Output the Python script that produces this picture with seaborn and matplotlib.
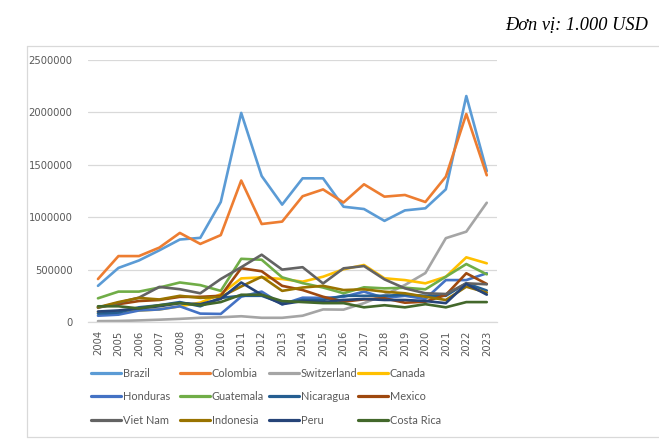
import matplotlib
matplotlib.use("Agg")
import matplotlib.pyplot as plt
import seaborn as sns
import pandas as pd
from matplotlib.lines import Line2D

years = list(range(2004, 2024))

brazil      = [345000, 516000, 587000, 684000, 787000, 803000, 1145000, 1995000, 1393000, 1120000, 1371000, 1371000, 1100000, 1078000, 965000, 1065000, 1085000, 1266000, 2156000, 1440000]
colombia    = [410000, 629000, 629000, 710000, 850000, 745000, 829000, 1350000, 935000, 958000, 1200000, 1265000, 1140000, 1314000, 1196000, 1212000, 1145000, 1387000, 1985000, 1400000]
switzerland = [8000, 10000, 15000, 22000, 30000, 40000, 45000, 55000, 40000, 40000, 60000, 120000, 118000, 180000, 258000, 353000, 467000, 800000, 862000, 1138000]
canada      = [94000, 103000, 110000, 120000, 150000, 185000, 265000, 416000, 426000, 410000, 385000, 432000, 503000, 544000, 417000, 400000, 369000, 432000, 617000, 560000]
honduras    = [60000, 70000, 110000, 120000, 150000, 80000, 77000, 242000, 290000, 168000, 232000, 230000, 240000, 290000, 230000, 250000, 220000, 400000, 400000, 465000]
guatemala   = [226000, 290000, 290000, 329000, 377000, 352000, 297000, 603000, 594000, 426000, 371000, 329000, 274000, 331000, 321000, 327000, 312000, 432000, 553000, 455000]
nicaragua   = [80000, 90000, 140000, 160000, 190000, 150000, 230000, 250000, 250000, 180000, 210000, 210000, 250000, 250000, 250000, 260000, 250000, 250000, 370000, 300000]
mexico      = [142000, 170000, 200000, 210000, 240000, 240000, 250000, 513000, 484000, 345000, 305000, 241000, 194000, 216000, 226000, 184000, 194000, 258000, 465000, 363000]
vietnam     = [135000, 184000, 232000, 335000, 313000, 274000, 410000, 523000, 642000, 500000, 523000, 368000, 512000, 534000, 407000, 321000, 274000, 267000, 369000, 360000]
indonesia   = [140000, 190000, 230000, 215000, 250000, 230000, 240000, 339000, 432000, 297000, 329000, 345000, 305000, 312000, 289000, 274000, 241000, 210000, 337000, 280000]
peru        = [100000, 110000, 130000, 150000, 180000, 170000, 220000, 377000, 260000, 170000, 200000, 190000, 210000, 220000, 210000, 210000, 200000, 180000, 363000, 261000]
costarica   = [150000, 150000, 130000, 160000, 180000, 160000, 190000, 260000, 260000, 200000, 190000, 180000, 180000, 140000, 160000, 140000, 170000, 140000, 190000, 190000]

countries = ["Brazil", "Colombia", "Switzerland", "Canada",
             "Honduras", "Guatemala", "Nicaragua", "Mexico",
             "Viet Nam", "Indonesia", "Peru", "Costa Rica"]
series = [brazil, colombia, switzerland, canada, honduras, guatemala,
          nicaragua, mexico, vietnam, indonesia, peru, costarica]
colors = ["#5B9BD5", "#ED7D31", "#A5A5A5", "#FFC000",
          "#4472C4", "#70AD47", "#255E91", "#9E480E",
          "#636363", "#997300", "#264478", "#43682B"]

rows = []
for c, vals in zip(countries, series):
    for i, (y, v) in enumerate(zip(years, vals)):
        rows.append({"idx": i, "year": y, "country": c, "value": v})
df = pd.DataFrame(rows)

sns.set_theme(style="white")
plt.rcParams['font.family'] = ['DejaVu Sans']

W, H = 659, 448
fig = plt.figure(figsize=(W / 100, H / 100), dpi=100)
ax = fig.add_axes([87.75 / W, 1 - 322 / H, (497 - 87.75) / W, (322 - 60) / H])

palette = dict(zip(countries, colors))
sns.lineplot(data=df, x="idx", y="value", hue="country", hue_order=countries,
             palette=palette, linewidth=1.9, ax=ax, legend=False,
             estimator=None, sort=False)

ax.set_xlim(-0.5, len(years) - 0.5)
ax.set_ylim(0, 2500000)
ax.set_yticks([0, 500000, 1000000, 1500000, 2000000, 2500000])
ax.set_yticklabels(["0", "500000", "1000000", "1500000", "2000000", "2500000"])
ax.set_xticks(range(len(years)))
ax.set_xticklabels([str(y) for y in years], rotation=90)
ax.tick_params(axis='both', labelsize=7.2, colors="#595959", length=0)
ax.tick_params(axis='y', pad=11)
ax.tick_params(axis='x', pad=6)
ax.grid(axis='y', color="#D9D9D9", linewidth=0.9)
ax.set_axisbelow(True)
for s in ["top", "right", "left"]:
    ax.spines[s].set_visible(False)
ax.spines["bottom"].set_color("#D9D9D9")
ax.spines["bottom"].set_linewidth(0.9)
ax.set_xlabel("")
ax.set_ylabel("")

# legend: 4 fixed-width columns, filled row by row
col_x = [91, 180, 269, 358]
for j in range(4):
    idxs = [j, j + 4, j + 8]
    hs = [Line2D([0], [0], color=colors[k], lw=2.3) for k in idxs]
    labs = [countries[k] for k in idxs]
    leg = fig.legend(hs, labs, ncol=1, loc="upper left",
                     bbox_to_anchor=(col_x[j] / W, 1 - 368 / H), frameon=False,
                     prop={"family": "Lato", "size": 7.9},
                     handlelength=2.7, handletextpad=0.2,
                     labelspacing=1.12, borderaxespad=0, borderpad=0)
    for t in leg.get_texts():
        t.set_color("#595959")

# chart area outline
fig.add_artist(Line2D([27 / W, 27 / W], [1 - 46 / H, 1 - 437 / H], color="#D9D9D9", lw=0.9))
fig.add_artist(Line2D([27 / W, 1.0], [1 - 46 / H, 1 - 46 / H], color="#D9D9D9", lw=0.9))
fig.add_artist(Line2D([27 / W, 1.0], [1 - 437 / H, 1 - 437 / H], color="#D9D9D9", lw=0.9))

fig.text(648 / W, 1 - 25 / H, "Đơn vị: 1.000 USD", ha="right", va="center",
         fontsize=13.2, style="italic", family=["Liberation Serif", "DejaVu Serif"],
         color="black")

fig.savefig("out.png", dpi=100)
